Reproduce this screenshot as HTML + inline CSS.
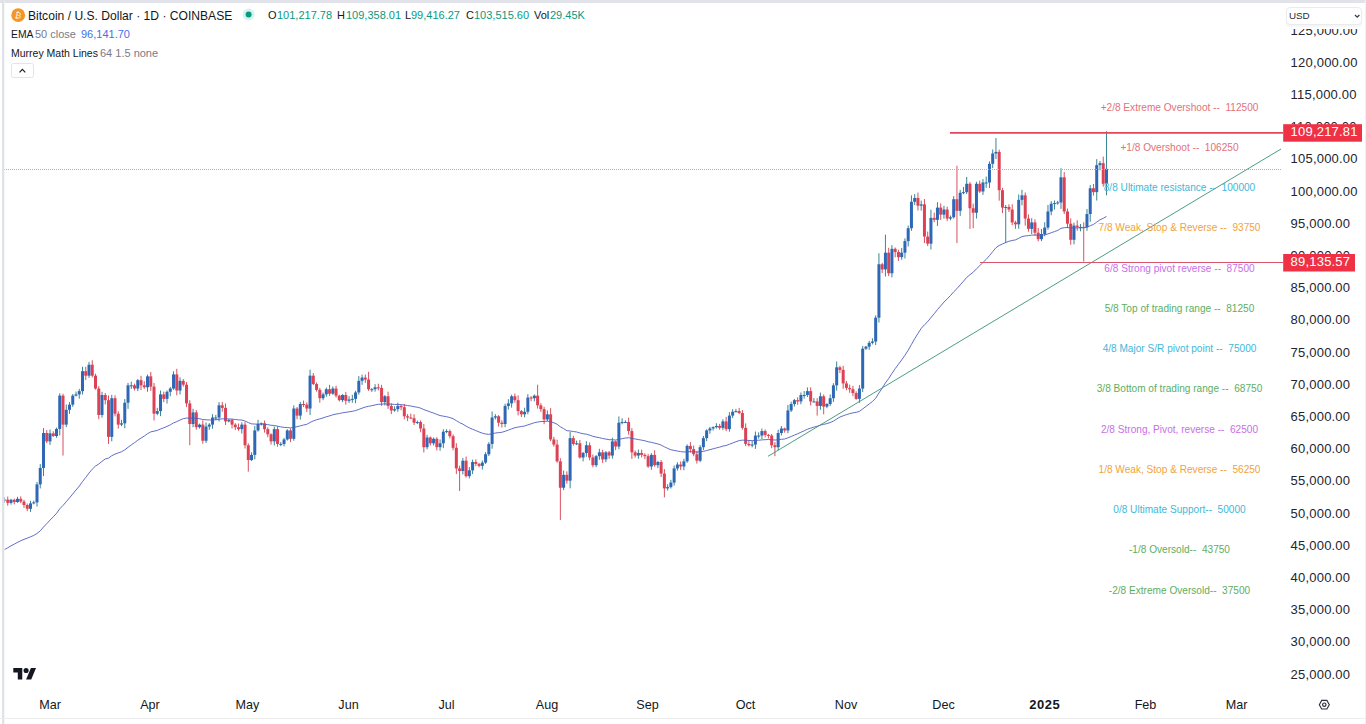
<!DOCTYPE html>
<html><head><meta charset="utf-8">
<style>
html,body{margin:0;padding:0;background:#fff;}
body{width:1366px;height:724px;overflow:hidden;position:relative;font-family:"Liberation Sans",sans-serif;color:#131722;}
.frame-top{position:absolute;left:0;top:0;width:1366px;height:2.5px;background:#e2e3ea;}
.frame-left{position:absolute;left:1.5px;top:0;width:2.5px;height:724px;background:#dfe2e6;box-shadow:0.6px 0 0.8px #eef0f2;}
.frame-right{position:absolute;left:1364.5px;top:0;width:1.5px;height:724px;background:#f1f2f5;}
.frame-bottom{position:absolute;left:0;top:718.3px;width:1366px;height:1.2px;background:#ededed;}
svg{position:absolute;left:0;top:0;}
.legend{position:absolute;left:11px;white-space:pre;}
.l1{top:7px;font-size:13px;left:28px;}
.l2{top:27px;font-size:11px;}
.l3{top:45px;font-size:11px;}
.lg{position:absolute;top:9px;font-size:11px;white-space:pre;color:#131722;}
.v{color:#089981;}
.lg2{position:absolute;font-size:11px;white-space:pre;color:#131722;}
.lg2.g{color:#787b86;}
.btn{position:absolute;left:11px;top:63px;width:22.5px;height:15.3px;border:1px solid #e3e4e6;border-radius:2.5px;box-sizing:border-box;}
.usd{position:absolute;left:1286px;top:6.5px;width:76px;height:18px;border:1px solid #e9ebef;border-radius:4px;box-sizing:border-box;font-size:9.8px;background:#fff;box-shadow:0 1.5px 1.5px rgba(0,0,0,0.04);color:#2a2e39;font-weight:normal;}
.taxis{position:absolute;top:697.6px;font-size:12.6px;transform:translateX(-50%);}
</style></head><body>
<svg width="1366" height="724" viewBox="0 0 1366 724" font-family="Liberation Sans, sans-serif">
<defs><clipPath id="pane"><rect x="4" y="2" width="1280" height="686"/></clipPath></defs>
<g clip-path="url(#pane)">
<rect x="-9.01" y="512.78" width="1" height="5.13" fill="#3a8593"/><rect x="-10.01" y="514.14" width="3" height="1.61" fill="#2d67b5"/><rect x="-5.76" y="512.22" width="1" height="3.98" fill="#d9505f"/><rect x="-6.76" y="514.14" width="3" height="1.29" fill="#dc4254"/><rect x="-2.51" y="500.38" width="1" height="15.96" fill="#3a8593"/><rect x="-3.51" y="501.91" width="3" height="13.52" fill="#2d67b5"/><rect x="0.74" y="498.81" width="1" height="4.01" fill="#3a8593"/><rect x="-0.26" y="500.62" width="3" height="1.29" fill="#2d67b5"/><rect x="3.99" y="497.34" width="1" height="5.38" fill="#3a8593"/><rect x="2.99" y="499.65" width="3" height="1.00" fill="#2d67b5"/><rect x="7.24" y="496.58" width="1" height="9.18" fill="#d9505f"/><rect x="6.24" y="499.65" width="3" height="3.22" fill="#dc4254"/><rect x="10.49" y="498.80" width="1" height="5.80" fill="#3a8593"/><rect x="9.49" y="499.78" width="3" height="3.09" fill="#2d67b5"/><rect x="13.74" y="498.57" width="1" height="5.78" fill="#d9505f"/><rect x="12.74" y="499.78" width="3" height="2.25" fill="#dc4254"/><rect x="16.99" y="496.81" width="1" height="6.04" fill="#3a8593"/><rect x="15.99" y="498.82" width="3" height="3.22" fill="#2d67b5"/><rect x="20.24" y="496.34" width="1" height="6.85" fill="#d9505f"/><rect x="19.24" y="498.82" width="3" height="2.77" fill="#dc4254"/><rect x="23.49" y="499.73" width="1" height="8.19" fill="#d9505f"/><rect x="22.49" y="501.59" width="3" height="3.41" fill="#dc4254"/><rect x="26.75" y="503.52" width="1" height="7.64" fill="#d9505f"/><rect x="25.75" y="505.00" width="3" height="3.80" fill="#dc4254"/><rect x="30.00" y="500.74" width="1" height="11.21" fill="#3a8593"/><rect x="29.00" y="503.39" width="3" height="5.41" fill="#2d67b5"/><rect x="33.25" y="500.62" width="1" height="3.78" fill="#3a8593"/><rect x="32.25" y="502.36" width="3" height="1.03" fill="#2d67b5"/><rect x="36.50" y="481.90" width="1" height="24.64" fill="#3a8593"/><rect x="35.50" y="484.39" width="3" height="17.97" fill="#2d67b5"/><rect x="39.75" y="464.04" width="1" height="24.39" fill="#3a8593"/><rect x="38.75" y="467.90" width="3" height="16.49" fill="#2d67b5"/><rect x="43.00" y="428.15" width="1" height="47.97" fill="#3a8593"/><rect x="42.00" y="433.00" width="3" height="34.90" fill="#2d67b5"/><rect x="46.25" y="430.08" width="1" height="13.01" fill="#d9505f"/><rect x="45.25" y="433.00" width="3" height="8.37" fill="#dc4254"/><rect x="49.50" y="429.53" width="1" height="15.39" fill="#3a8593"/><rect x="48.50" y="433.39" width="3" height="7.99" fill="#2d67b5"/><rect x="52.75" y="431.28" width="1" height="5.66" fill="#d9505f"/><rect x="51.75" y="433.39" width="3" height="2.64" fill="#dc4254"/><rect x="56.00" y="427.62" width="1" height="10.08" fill="#3a8593"/><rect x="55.00" y="428.94" width="3" height="7.08" fill="#2d67b5"/><rect x="59.25" y="393.25" width="1" height="42.10" fill="#3a8593"/><rect x="58.25" y="395.65" width="3" height="33.29" fill="#2d67b5"/><rect x="62.50" y="393.72" width="1" height="61.82" fill="#d9505f"/><rect x="61.50" y="395.65" width="3" height="28.98" fill="#dc4254"/><rect x="65.75" y="404.51" width="1" height="22.66" fill="#3a8593"/><rect x="64.75" y="409.82" width="3" height="14.81" fill="#2d67b5"/><rect x="69.00" y="402.08" width="1" height="11.74" fill="#3a8593"/><rect x="68.00" y="404.66" width="3" height="5.15" fill="#2d67b5"/><rect x="72.25" y="394.01" width="1" height="12.82" fill="#3a8593"/><rect x="71.25" y="395.65" width="3" height="9.02" fill="#2d67b5"/><rect x="75.51" y="391.58" width="1" height="4.89" fill="#3a8593"/><rect x="74.51" y="394.36" width="3" height="1.29" fill="#2d67b5"/><rect x="78.76" y="388.87" width="1" height="9.82" fill="#3a8593"/><rect x="77.76" y="391.14" width="3" height="3.22" fill="#2d67b5"/><rect x="82.01" y="366.72" width="1" height="27.77" fill="#3a8593"/><rect x="81.01" y="371.18" width="3" height="19.96" fill="#2d67b5"/><rect x="85.26" y="366.71" width="1" height="13.37" fill="#d9505f"/><rect x="84.26" y="371.18" width="3" height="4.51" fill="#dc4254"/><rect x="88.51" y="361.88" width="1" height="16.00" fill="#3a8593"/><rect x="87.51" y="364.74" width="3" height="10.95" fill="#2d67b5"/><rect x="91.76" y="360.23" width="1" height="17.22" fill="#d9505f"/><rect x="90.76" y="364.74" width="3" height="10.95" fill="#dc4254"/><rect x="95.01" y="373.67" width="1" height="15.92" fill="#d9505f"/><rect x="94.01" y="375.68" width="3" height="12.88" fill="#dc4254"/><rect x="98.26" y="386.10" width="1" height="33.11" fill="#d9505f"/><rect x="97.26" y="388.56" width="3" height="26.40" fill="#dc4254"/><rect x="101.51" y="391.75" width="1" height="25.84" fill="#3a8593"/><rect x="100.51" y="395.00" width="3" height="19.96" fill="#2d67b5"/><rect x="104.76" y="392.97" width="1" height="11.52" fill="#d9505f"/><rect x="103.76" y="395.00" width="3" height="5.15" fill="#dc4254"/><rect x="108.01" y="395.40" width="1" height="48.54" fill="#d9505f"/><rect x="107.01" y="400.16" width="3" height="36.71" fill="#dc4254"/><rect x="111.26" y="394.81" width="1" height="46.50" fill="#3a8593"/><rect x="110.26" y="398.22" width="3" height="38.64" fill="#2d67b5"/><rect x="114.51" y="395.25" width="1" height="21.18" fill="#d9505f"/><rect x="113.51" y="398.22" width="3" height="15.46" fill="#dc4254"/><rect x="117.76" y="411.24" width="1" height="17.34" fill="#d9505f"/><rect x="116.76" y="413.68" width="3" height="10.95" fill="#dc4254"/><rect x="121.02" y="419.79" width="1" height="6.42" fill="#3a8593"/><rect x="120.02" y="423.34" width="3" height="1.29" fill="#2d67b5"/><rect x="124.27" y="399.08" width="1" height="29.16" fill="#3a8593"/><rect x="123.27" y="402.73" width="3" height="20.61" fill="#2d67b5"/><rect x="127.52" y="382.88" width="1" height="25.98" fill="#3a8593"/><rect x="126.52" y="385.34" width="3" height="17.39" fill="#2d67b5"/><rect x="130.77" y="381.65" width="1" height="7.28" fill="#3a8593"/><rect x="129.77" y="385.34" width="3" height="1.00" fill="#2d67b5"/><rect x="134.02" y="383.58" width="1" height="6.96" fill="#d9505f"/><rect x="133.02" y="385.34" width="3" height="3.22" fill="#dc4254"/><rect x="137.27" y="378.99" width="1" height="12.10" fill="#3a8593"/><rect x="136.27" y="380.19" width="3" height="8.37" fill="#2d67b5"/><rect x="140.52" y="375.79" width="1" height="14.31" fill="#d9505f"/><rect x="139.52" y="380.19" width="3" height="5.15" fill="#dc4254"/><rect x="143.77" y="381.20" width="1" height="7.64" fill="#d9505f"/><rect x="142.77" y="385.34" width="3" height="1.93" fill="#dc4254"/><rect x="147.02" y="374.54" width="1" height="17.18" fill="#3a8593"/><rect x="146.02" y="376.33" width="3" height="10.95" fill="#2d67b5"/><rect x="150.27" y="371.94" width="1" height="18.92" fill="#d9505f"/><rect x="149.27" y="376.33" width="3" height="10.30" fill="#dc4254"/><rect x="153.52" y="382.98" width="1" height="37.52" fill="#d9505f"/><rect x="152.52" y="386.63" width="3" height="27.05" fill="#dc4254"/><rect x="156.77" y="407.77" width="1" height="7.50" fill="#3a8593"/><rect x="155.77" y="411.10" width="3" height="2.58" fill="#2d67b5"/><rect x="160.02" y="390.49" width="1" height="25.64" fill="#3a8593"/><rect x="159.02" y="394.36" width="3" height="16.74" fill="#2d67b5"/><rect x="163.27" y="391.65" width="1" height="10.49" fill="#d9505f"/><rect x="162.27" y="394.36" width="3" height="4.51" fill="#dc4254"/><rect x="166.53" y="390.46" width="1" height="13.09" fill="#3a8593"/><rect x="165.53" y="391.78" width="3" height="7.08" fill="#2d67b5"/><rect x="169.78" y="386.92" width="1" height="9.29" fill="#3a8593"/><rect x="168.78" y="388.56" width="3" height="3.22" fill="#2d67b5"/><rect x="173.03" y="371.23" width="1" height="18.60" fill="#3a8593"/><rect x="172.03" y="374.40" width="3" height="14.17" fill="#2d67b5"/><rect x="176.28" y="368.77" width="1" height="26.52" fill="#d9505f"/><rect x="175.28" y="374.40" width="3" height="16.10" fill="#dc4254"/><rect x="179.53" y="377.30" width="1" height="17.14" fill="#3a8593"/><rect x="178.53" y="380.84" width="3" height="9.66" fill="#2d67b5"/><rect x="182.78" y="379.05" width="1" height="7.57" fill="#d9505f"/><rect x="181.78" y="380.84" width="3" height="3.86" fill="#dc4254"/><rect x="186.03" y="381.95" width="1" height="25.12" fill="#d9505f"/><rect x="185.03" y="384.70" width="3" height="18.68" fill="#dc4254"/><rect x="189.28" y="400.16" width="1" height="45.08" fill="#d9505f"/><rect x="188.28" y="403.38" width="3" height="20.61" fill="#dc4254"/><rect x="192.53" y="408.73" width="1" height="18.51" fill="#3a8593"/><rect x="191.53" y="412.39" width="3" height="11.59" fill="#2d67b5"/><rect x="195.78" y="410.03" width="1" height="19.64" fill="#d9505f"/><rect x="194.78" y="412.39" width="3" height="14.81" fill="#dc4254"/><rect x="199.03" y="423.63" width="1" height="4.98" fill="#3a8593"/><rect x="198.03" y="424.63" width="3" height="2.58" fill="#2d67b5"/><rect x="202.28" y="420.43" width="1" height="23.19" fill="#d9505f"/><rect x="201.28" y="424.63" width="3" height="16.10" fill="#dc4254"/><rect x="205.53" y="422.47" width="1" height="20.46" fill="#3a8593"/><rect x="204.53" y="426.56" width="3" height="14.17" fill="#2d67b5"/><rect x="208.78" y="423.08" width="1" height="6.74" fill="#3a8593"/><rect x="207.78" y="424.63" width="3" height="1.93" fill="#2d67b5"/><rect x="212.03" y="414.24" width="1" height="14.49" fill="#3a8593"/><rect x="211.03" y="417.54" width="3" height="7.08" fill="#2d67b5"/><rect x="215.29" y="414.88" width="1" height="5.00" fill="#3a8593"/><rect x="214.29" y="417.54" width="3" height="1.00" fill="#2d67b5"/><rect x="218.54" y="402.12" width="1" height="19.44" fill="#3a8593"/><rect x="217.54" y="405.31" width="3" height="12.24" fill="#2d67b5"/><rect x="221.79" y="401.96" width="1" height="9.83" fill="#d9505f"/><rect x="220.79" y="405.31" width="3" height="2.58" fill="#dc4254"/><rect x="225.04" y="403.50" width="1" height="21.54" fill="#d9505f"/><rect x="224.04" y="407.88" width="3" height="13.52" fill="#dc4254"/><rect x="228.29" y="418.96" width="1" height="3.41" fill="#3a8593"/><rect x="227.29" y="420.12" width="3" height="1.29" fill="#2d67b5"/><rect x="231.54" y="418.76" width="1" height="9.63" fill="#d9505f"/><rect x="230.54" y="420.12" width="3" height="4.51" fill="#dc4254"/><rect x="234.79" y="423.19" width="1" height="6.82" fill="#d9505f"/><rect x="233.79" y="424.63" width="3" height="2.58" fill="#dc4254"/><rect x="238.04" y="423.49" width="1" height="7.28" fill="#d9505f"/><rect x="237.04" y="427.20" width="3" height="1.93" fill="#dc4254"/><rect x="241.29" y="422.36" width="1" height="11.15" fill="#3a8593"/><rect x="240.29" y="424.63" width="3" height="4.51" fill="#2d67b5"/><rect x="244.54" y="422.16" width="1" height="26.31" fill="#d9505f"/><rect x="243.54" y="424.63" width="3" height="20.61" fill="#dc4254"/><rect x="247.79" y="443.34" width="1" height="28.30" fill="#d9505f"/><rect x="246.79" y="445.24" width="3" height="14.81" fill="#dc4254"/><rect x="251.04" y="452.30" width="1" height="8.68" fill="#3a8593"/><rect x="250.04" y="454.90" width="3" height="5.15" fill="#2d67b5"/><rect x="254.29" y="425.93" width="1" height="33.45" fill="#3a8593"/><rect x="253.29" y="430.42" width="3" height="24.47" fill="#2d67b5"/><rect x="257.54" y="419.87" width="1" height="11.82" fill="#3a8593"/><rect x="256.54" y="423.98" width="3" height="6.44" fill="#2d67b5"/><rect x="260.80" y="422.46" width="1" height="3.08" fill="#3a8593"/><rect x="259.80" y="423.34" width="3" height="1.00" fill="#2d67b5"/><rect x="264.05" y="420.56" width="1" height="12.04" fill="#d9505f"/><rect x="263.05" y="423.34" width="3" height="5.80" fill="#dc4254"/><rect x="267.30" y="427.30" width="1" height="9.95" fill="#d9505f"/><rect x="266.30" y="429.14" width="3" height="5.15" fill="#dc4254"/><rect x="270.55" y="433.31" width="1" height="11.26" fill="#d9505f"/><rect x="269.55" y="434.29" width="3" height="7.08" fill="#dc4254"/><rect x="273.80" y="426.52" width="1" height="18.98" fill="#3a8593"/><rect x="272.80" y="429.14" width="3" height="12.24" fill="#2d67b5"/><rect x="277.05" y="426.34" width="1" height="20.38" fill="#d9505f"/><rect x="276.05" y="429.14" width="3" height="14.81" fill="#dc4254"/><rect x="280.30" y="441.93" width="1" height="4.33" fill="#3a8593"/><rect x="279.30" y="443.95" width="3" height="1.00" fill="#2d67b5"/><rect x="283.55" y="437.88" width="1" height="8.49" fill="#3a8593"/><rect x="282.55" y="439.44" width="3" height="4.51" fill="#2d67b5"/><rect x="286.80" y="429.20" width="1" height="11.34" fill="#3a8593"/><rect x="285.80" y="430.42" width="3" height="9.02" fill="#2d67b5"/><rect x="290.05" y="428.43" width="1" height="13.70" fill="#d9505f"/><rect x="289.05" y="430.42" width="3" height="8.37" fill="#dc4254"/><rect x="293.30" y="405.37" width="1" height="35.35" fill="#3a8593"/><rect x="292.30" y="408.53" width="3" height="30.27" fill="#2d67b5"/><rect x="296.55" y="407.01" width="1" height="12.25" fill="#d9505f"/><rect x="295.55" y="408.53" width="3" height="7.08" fill="#dc4254"/><rect x="299.80" y="401.85" width="1" height="17.76" fill="#3a8593"/><rect x="298.80" y="404.02" width="3" height="11.59" fill="#2d67b5"/><rect x="303.05" y="400.55" width="1" height="6.55" fill="#d9505f"/><rect x="302.05" y="404.02" width="3" height="1.00" fill="#dc4254"/><rect x="306.31" y="402.37" width="1" height="9.69" fill="#d9505f"/><rect x="305.31" y="404.66" width="3" height="3.86" fill="#dc4254"/><rect x="309.56" y="369.61" width="1" height="45.31" fill="#3a8593"/><rect x="308.56" y="375.68" width="3" height="32.84" fill="#2d67b5"/><rect x="312.81" y="373.10" width="1" height="12.06" fill="#d9505f"/><rect x="311.81" y="375.68" width="3" height="8.37" fill="#dc4254"/><rect x="316.06" y="382.43" width="1" height="9.17" fill="#d9505f"/><rect x="315.06" y="384.06" width="3" height="5.80" fill="#dc4254"/><rect x="319.31" y="387.79" width="1" height="14.93" fill="#d9505f"/><rect x="318.31" y="389.85" width="3" height="8.37" fill="#dc4254"/><rect x="322.56" y="392.53" width="1" height="7.68" fill="#3a8593"/><rect x="321.56" y="394.36" width="3" height="3.86" fill="#2d67b5"/><rect x="325.81" y="387.59" width="1" height="9.16" fill="#3a8593"/><rect x="324.81" y="389.21" width="3" height="5.15" fill="#2d67b5"/><rect x="329.06" y="384.80" width="1" height="11.13" fill="#d9505f"/><rect x="328.06" y="389.21" width="3" height="4.51" fill="#dc4254"/><rect x="332.31" y="386.49" width="1" height="8.27" fill="#3a8593"/><rect x="331.31" y="388.56" width="3" height="5.15" fill="#2d67b5"/><rect x="335.56" y="385.70" width="1" height="11.89" fill="#d9505f"/><rect x="334.56" y="388.56" width="3" height="7.08" fill="#dc4254"/><rect x="338.81" y="394.73" width="1" height="6.71" fill="#d9505f"/><rect x="337.81" y="395.65" width="3" height="4.51" fill="#dc4254"/><rect x="342.06" y="394.12" width="1" height="7.98" fill="#3a8593"/><rect x="341.06" y="395.00" width="3" height="5.15" fill="#2d67b5"/><rect x="345.31" y="391.87" width="1" height="12.73" fill="#d9505f"/><rect x="344.31" y="395.00" width="3" height="5.80" fill="#dc4254"/><rect x="348.56" y="396.22" width="1" height="6.67" fill="#3a8593"/><rect x="347.56" y="399.51" width="3" height="1.29" fill="#2d67b5"/><rect x="351.82" y="394.82" width="1" height="7.91" fill="#3a8593"/><rect x="350.82" y="398.87" width="3" height="1.00" fill="#2d67b5"/><rect x="355.07" y="390.74" width="1" height="12.51" fill="#3a8593"/><rect x="354.07" y="392.43" width="3" height="6.44" fill="#2d67b5"/><rect x="358.32" y="376.10" width="1" height="18.47" fill="#3a8593"/><rect x="357.32" y="380.84" width="3" height="11.59" fill="#2d67b5"/><rect x="361.57" y="374.68" width="1" height="10.15" fill="#3a8593"/><rect x="360.57" y="377.62" width="3" height="3.22" fill="#2d67b5"/><rect x="364.82" y="374.55" width="1" height="8.34" fill="#d9505f"/><rect x="363.82" y="377.62" width="3" height="1.93" fill="#dc4254"/><rect x="368.07" y="371.82" width="1" height="19.10" fill="#d9505f"/><rect x="367.07" y="379.55" width="3" height="9.66" fill="#dc4254"/><rect x="371.32" y="388.11" width="1" height="3.75" fill="#3a8593"/><rect x="370.32" y="389.21" width="3" height="1.00" fill="#2d67b5"/><rect x="374.57" y="384.18" width="1" height="7.46" fill="#3a8593"/><rect x="373.57" y="387.28" width="3" height="1.93" fill="#2d67b5"/><rect x="377.82" y="383.72" width="1" height="6.73" fill="#d9505f"/><rect x="376.82" y="387.28" width="3" height="1.00" fill="#dc4254"/><rect x="381.07" y="384.86" width="1" height="20.93" fill="#d9505f"/><rect x="380.07" y="387.92" width="3" height="14.17" fill="#dc4254"/><rect x="384.32" y="395.08" width="1" height="10.37" fill="#3a8593"/><rect x="383.32" y="396.29" width="3" height="5.80" fill="#2d67b5"/><rect x="387.57" y="391.72" width="1" height="17.13" fill="#d9505f"/><rect x="386.57" y="396.29" width="3" height="9.66" fill="#dc4254"/><rect x="390.82" y="403.22" width="1" height="10.87" fill="#d9505f"/><rect x="389.82" y="405.95" width="3" height="4.51" fill="#dc4254"/><rect x="394.07" y="406.34" width="1" height="5.35" fill="#3a8593"/><rect x="393.07" y="409.17" width="3" height="1.29" fill="#2d67b5"/><rect x="397.32" y="402.64" width="1" height="9.13" fill="#3a8593"/><rect x="396.32" y="405.95" width="3" height="3.22" fill="#2d67b5"/><rect x="400.58" y="404.99" width="1" height="5.30" fill="#d9505f"/><rect x="399.58" y="405.95" width="3" height="1.29" fill="#dc4254"/><rect x="403.83" y="403.97" width="1" height="15.27" fill="#d9505f"/><rect x="402.83" y="407.24" width="3" height="9.02" fill="#dc4254"/><rect x="407.08" y="414.04" width="1" height="7.11" fill="#d9505f"/><rect x="406.08" y="416.26" width="3" height="1.29" fill="#dc4254"/><rect x="410.33" y="413.62" width="1" height="5.36" fill="#d9505f"/><rect x="409.33" y="417.54" width="3" height="1.00" fill="#dc4254"/><rect x="413.58" y="414.25" width="1" height="10.74" fill="#d9505f"/><rect x="412.58" y="418.19" width="3" height="4.51" fill="#dc4254"/><rect x="416.83" y="420.61" width="1" height="3.49" fill="#3a8593"/><rect x="415.83" y="422.05" width="3" height="1.00" fill="#2d67b5"/><rect x="420.08" y="420.43" width="1" height="11.85" fill="#d9505f"/><rect x="419.08" y="422.05" width="3" height="6.44" fill="#dc4254"/><rect x="423.33" y="423.97" width="1" height="28.46" fill="#d9505f"/><rect x="422.33" y="428.49" width="3" height="18.68" fill="#dc4254"/><rect x="426.58" y="434.84" width="1" height="14.51" fill="#3a8593"/><rect x="425.58" y="437.51" width="3" height="9.66" fill="#2d67b5"/><rect x="429.83" y="436.42" width="1" height="9.15" fill="#d9505f"/><rect x="428.83" y="437.51" width="3" height="5.80" fill="#dc4254"/><rect x="433.08" y="437.48" width="1" height="8.01" fill="#3a8593"/><rect x="432.08" y="438.80" width="3" height="4.51" fill="#2d67b5"/><rect x="436.33" y="437.21" width="1" height="13.26" fill="#d9505f"/><rect x="435.33" y="438.80" width="3" height="8.37" fill="#dc4254"/><rect x="439.58" y="439.45" width="1" height="11.26" fill="#3a8593"/><rect x="438.58" y="443.30" width="3" height="3.86" fill="#2d67b5"/><rect x="442.83" y="429.21" width="1" height="18.89" fill="#3a8593"/><rect x="441.83" y="431.71" width="3" height="11.59" fill="#2d67b5"/><rect x="446.09" y="429.24" width="1" height="4.00" fill="#3a8593"/><rect x="445.09" y="431.07" width="3" height="1.00" fill="#2d67b5"/><rect x="449.34" y="429.45" width="1" height="9.03" fill="#d9505f"/><rect x="448.34" y="431.07" width="3" height="5.15" fill="#dc4254"/><rect x="452.59" y="434.37" width="1" height="15.93" fill="#d9505f"/><rect x="451.59" y="436.22" width="3" height="11.59" fill="#dc4254"/><rect x="455.84" y="443.20" width="1" height="30.84" fill="#d9505f"/><rect x="454.84" y="447.81" width="3" height="20.61" fill="#dc4254"/><rect x="459.09" y="465.69" width="1" height="25.27" fill="#d9505f"/><rect x="458.09" y="468.42" width="3" height="2.58" fill="#dc4254"/><rect x="462.34" y="457.92" width="1" height="16.50" fill="#3a8593"/><rect x="461.34" y="460.69" width="3" height="10.30" fill="#2d67b5"/><rect x="465.59" y="456.52" width="1" height="21.12" fill="#d9505f"/><rect x="464.59" y="460.69" width="3" height="15.46" fill="#dc4254"/><rect x="468.84" y="467.03" width="1" height="11.34" fill="#3a8593"/><rect x="467.84" y="470.35" width="3" height="5.80" fill="#2d67b5"/><rect x="472.09" y="459.58" width="1" height="14.52" fill="#3a8593"/><rect x="471.09" y="461.98" width="3" height="8.37" fill="#2d67b5"/><rect x="475.34" y="459.40" width="1" height="6.83" fill="#d9505f"/><rect x="474.34" y="461.98" width="3" height="1.93" fill="#dc4254"/><rect x="478.59" y="462.78" width="1" height="4.53" fill="#d9505f"/><rect x="477.59" y="463.91" width="3" height="1.93" fill="#dc4254"/><rect x="481.84" y="460.48" width="1" height="9.07" fill="#3a8593"/><rect x="480.84" y="462.62" width="3" height="3.22" fill="#2d67b5"/><rect x="485.09" y="452.13" width="1" height="11.81" fill="#3a8593"/><rect x="484.09" y="454.25" width="3" height="8.37" fill="#2d67b5"/><rect x="488.34" y="442.13" width="1" height="13.89" fill="#3a8593"/><rect x="487.34" y="443.95" width="3" height="10.30" fill="#2d67b5"/><rect x="491.60" y="411.51" width="1" height="37.18" fill="#3a8593"/><rect x="490.60" y="417.54" width="3" height="26.40" fill="#2d67b5"/><rect x="494.85" y="414.13" width="1" height="5.39" fill="#3a8593"/><rect x="493.85" y="416.26" width="3" height="1.29" fill="#2d67b5"/><rect x="498.10" y="415.11" width="1" height="11.47" fill="#d9505f"/><rect x="497.10" y="416.26" width="3" height="6.44" fill="#dc4254"/><rect x="501.35" y="420.30" width="1" height="7.14" fill="#d9505f"/><rect x="500.35" y="422.70" width="3" height="1.29" fill="#dc4254"/><rect x="504.60" y="403.67" width="1" height="23.55" fill="#3a8593"/><rect x="503.60" y="405.95" width="3" height="18.03" fill="#2d67b5"/><rect x="507.85" y="399.16" width="1" height="10.42" fill="#3a8593"/><rect x="506.85" y="403.38" width="3" height="2.58" fill="#2d67b5"/><rect x="511.10" y="394.70" width="1" height="12.93" fill="#3a8593"/><rect x="510.10" y="396.29" width="3" height="7.08" fill="#2d67b5"/><rect x="514.35" y="393.61" width="1" height="9.12" fill="#d9505f"/><rect x="513.35" y="396.29" width="3" height="3.86" fill="#dc4254"/><rect x="517.60" y="395.35" width="1" height="20.04" fill="#d9505f"/><rect x="516.60" y="400.16" width="3" height="10.95" fill="#dc4254"/><rect x="520.85" y="409.98" width="1" height="7.06" fill="#d9505f"/><rect x="519.85" y="411.10" width="3" height="3.22" fill="#dc4254"/><rect x="524.10" y="407.70" width="1" height="9.73" fill="#3a8593"/><rect x="523.10" y="411.75" width="3" height="2.58" fill="#2d67b5"/><rect x="527.35" y="394.14" width="1" height="20.12" fill="#3a8593"/><rect x="526.35" y="397.58" width="3" height="14.17" fill="#2d67b5"/><rect x="530.60" y="395.99" width="1" height="5.16" fill="#d9505f"/><rect x="529.60" y="397.58" width="3" height="1.00" fill="#dc4254"/><rect x="533.85" y="394.39" width="1" height="6.98" fill="#3a8593"/><rect x="532.85" y="395.65" width="3" height="2.58" fill="#2d67b5"/><rect x="537.11" y="384.70" width="1" height="23.90" fill="#d9505f"/><rect x="536.11" y="395.65" width="3" height="9.66" fill="#dc4254"/><rect x="540.36" y="403.20" width="1" height="8.65" fill="#d9505f"/><rect x="539.36" y="405.31" width="3" height="3.86" fill="#dc4254"/><rect x="543.61" y="406.81" width="1" height="17.42" fill="#d9505f"/><rect x="542.61" y="409.17" width="3" height="10.30" fill="#dc4254"/><rect x="546.86" y="410.40" width="1" height="10.73" fill="#3a8593"/><rect x="545.86" y="414.32" width="3" height="5.15" fill="#2d67b5"/><rect x="550.11" y="408.09" width="1" height="33.03" fill="#d9505f"/><rect x="549.11" y="414.32" width="3" height="25.12" fill="#dc4254"/><rect x="553.36" y="436.77" width="1" height="9.93" fill="#d9505f"/><rect x="552.36" y="439.44" width="3" height="5.15" fill="#dc4254"/><rect x="556.61" y="439.73" width="1" height="22.96" fill="#d9505f"/><rect x="555.61" y="444.59" width="3" height="16.74" fill="#dc4254"/><rect x="559.86" y="458.19" width="1" height="61.75" fill="#d9505f"/><rect x="558.86" y="461.34" width="3" height="26.40" fill="#dc4254"/><rect x="563.11" y="470.62" width="1" height="19.51" fill="#3a8593"/><rect x="562.11" y="474.86" width="3" height="12.88" fill="#2d67b5"/><rect x="566.36" y="471.35" width="1" height="12.33" fill="#d9505f"/><rect x="565.36" y="474.86" width="3" height="5.80" fill="#dc4254"/><rect x="569.61" y="431.97" width="1" height="56.31" fill="#3a8593"/><rect x="568.61" y="438.15" width="3" height="42.50" fill="#2d67b5"/><rect x="572.86" y="435.85" width="1" height="9.78" fill="#d9505f"/><rect x="571.86" y="438.15" width="3" height="5.80" fill="#dc4254"/><rect x="576.11" y="440.56" width="1" height="4.52" fill="#3a8593"/><rect x="575.11" y="443.30" width="3" height="1.00" fill="#2d67b5"/><rect x="579.36" y="439.99" width="1" height="18.63" fill="#d9505f"/><rect x="578.36" y="443.30" width="3" height="14.17" fill="#dc4254"/><rect x="582.61" y="451.89" width="1" height="9.46" fill="#3a8593"/><rect x="581.61" y="452.96" width="3" height="4.51" fill="#2d67b5"/><rect x="585.87" y="441.23" width="1" height="15.56" fill="#3a8593"/><rect x="584.87" y="445.24" width="3" height="7.73" fill="#2d67b5"/><rect x="589.12" y="442.35" width="1" height="17.97" fill="#d9505f"/><rect x="588.12" y="445.24" width="3" height="12.24" fill="#dc4254"/><rect x="592.37" y="454.53" width="1" height="12.73" fill="#d9505f"/><rect x="591.37" y="457.47" width="3" height="7.73" fill="#dc4254"/><rect x="595.62" y="455.06" width="1" height="12.06" fill="#3a8593"/><rect x="594.62" y="456.18" width="3" height="9.02" fill="#2d67b5"/><rect x="598.87" y="448.80" width="1" height="10.98" fill="#3a8593"/><rect x="597.87" y="452.32" width="3" height="3.86" fill="#2d67b5"/><rect x="602.12" y="449.79" width="1" height="13.07" fill="#d9505f"/><rect x="601.12" y="452.32" width="3" height="7.08" fill="#dc4254"/><rect x="605.37" y="451.04" width="1" height="11.07" fill="#3a8593"/><rect x="604.37" y="452.32" width="3" height="7.08" fill="#2d67b5"/><rect x="608.62" y="450.95" width="1" height="7.85" fill="#d9505f"/><rect x="607.62" y="452.32" width="3" height="3.22" fill="#dc4254"/><rect x="611.87" y="437.75" width="1" height="20.85" fill="#3a8593"/><rect x="610.87" y="441.37" width="3" height="14.17" fill="#2d67b5"/><rect x="615.12" y="440.58" width="1" height="9.54" fill="#d9505f"/><rect x="614.12" y="441.37" width="3" height="5.15" fill="#dc4254"/><rect x="618.37" y="416.43" width="1" height="32.83" fill="#3a8593"/><rect x="617.37" y="422.70" width="3" height="23.83" fill="#2d67b5"/><rect x="621.62" y="418.26" width="1" height="6.02" fill="#3a8593"/><rect x="620.62" y="422.05" width="3" height="1.00" fill="#2d67b5"/><rect x="624.87" y="420.36" width="1" height="2.38" fill="#3a8593"/><rect x="623.87" y="422.05" width="3" height="1.00" fill="#2d67b5"/><rect x="628.12" y="417.67" width="1" height="17.03" fill="#d9505f"/><rect x="627.12" y="422.05" width="3" height="9.02" fill="#dc4254"/><rect x="631.38" y="428.23" width="1" height="30.59" fill="#d9505f"/><rect x="630.38" y="431.07" width="3" height="21.25" fill="#dc4254"/><rect x="634.63" y="450.44" width="1" height="7.22" fill="#d9505f"/><rect x="633.63" y="452.32" width="3" height="3.22" fill="#dc4254"/><rect x="637.88" y="449.53" width="1" height="9.29" fill="#3a8593"/><rect x="636.88" y="452.96" width="3" height="2.58" fill="#2d67b5"/><rect x="641.13" y="449.70" width="1" height="7.70" fill="#d9505f"/><rect x="640.13" y="452.96" width="3" height="1.93" fill="#dc4254"/><rect x="644.38" y="453.27" width="1" height="5.84" fill="#d9505f"/><rect x="643.38" y="454.90" width="3" height="1.29" fill="#dc4254"/><rect x="647.63" y="453.85" width="1" height="14.05" fill="#d9505f"/><rect x="646.63" y="456.18" width="3" height="10.30" fill="#dc4254"/><rect x="650.88" y="453.21" width="1" height="16.57" fill="#3a8593"/><rect x="649.88" y="454.90" width="3" height="11.59" fill="#2d67b5"/><rect x="654.13" y="450.24" width="1" height="16.46" fill="#d9505f"/><rect x="653.13" y="454.90" width="3" height="10.30" fill="#dc4254"/><rect x="657.38" y="460.85" width="1" height="7.23" fill="#3a8593"/><rect x="656.38" y="461.98" width="3" height="3.22" fill="#2d67b5"/><rect x="660.63" y="460.01" width="1" height="17.06" fill="#d9505f"/><rect x="659.63" y="461.98" width="3" height="11.59" fill="#dc4254"/><rect x="663.88" y="469.12" width="1" height="28.28" fill="#d9505f"/><rect x="662.88" y="473.57" width="3" height="14.81" fill="#dc4254"/><rect x="667.13" y="484.21" width="1" height="6.34" fill="#3a8593"/><rect x="666.13" y="487.10" width="3" height="1.29" fill="#2d67b5"/><rect x="670.38" y="479.87" width="1" height="8.65" fill="#3a8593"/><rect x="669.38" y="482.59" width="3" height="4.51" fill="#2d67b5"/><rect x="673.63" y="465.50" width="1" height="20.02" fill="#3a8593"/><rect x="672.63" y="468.42" width="3" height="14.17" fill="#2d67b5"/><rect x="676.89" y="462.24" width="1" height="8.38" fill="#3a8593"/><rect x="675.89" y="464.56" width="3" height="3.86" fill="#2d67b5"/><rect x="680.14" y="461.46" width="1" height="8.48" fill="#d9505f"/><rect x="679.14" y="464.56" width="3" height="1.93" fill="#dc4254"/><rect x="683.39" y="458.72" width="1" height="11.52" fill="#3a8593"/><rect x="682.39" y="461.34" width="3" height="5.15" fill="#2d67b5"/><rect x="686.64" y="444.44" width="1" height="18.34" fill="#3a8593"/><rect x="685.64" y="445.88" width="3" height="15.46" fill="#2d67b5"/><rect x="689.89" y="442.07" width="1" height="10.62" fill="#d9505f"/><rect x="688.89" y="445.88" width="3" height="3.22" fill="#dc4254"/><rect x="693.14" y="445.58" width="1" height="10.66" fill="#d9505f"/><rect x="692.14" y="449.10" width="3" height="5.15" fill="#dc4254"/><rect x="696.39" y="450.80" width="1" height="12.83" fill="#d9505f"/><rect x="695.39" y="454.25" width="3" height="6.44" fill="#dc4254"/><rect x="699.64" y="445.13" width="1" height="17.04" fill="#3a8593"/><rect x="698.64" y="447.17" width="3" height="13.52" fill="#2d67b5"/><rect x="702.89" y="435.91" width="1" height="14.19" fill="#3a8593"/><rect x="701.89" y="438.15" width="3" height="9.02" fill="#2d67b5"/><rect x="706.14" y="429.34" width="1" height="11.81" fill="#3a8593"/><rect x="705.14" y="430.42" width="3" height="7.73" fill="#2d67b5"/><rect x="709.39" y="426.78" width="1" height="6.96" fill="#3a8593"/><rect x="708.39" y="428.49" width="3" height="1.93" fill="#2d67b5"/><rect x="712.64" y="426.31" width="1" height="4.20" fill="#3a8593"/><rect x="711.64" y="427.20" width="3" height="1.29" fill="#2d67b5"/><rect x="715.89" y="423.21" width="1" height="5.32" fill="#3a8593"/><rect x="714.89" y="425.92" width="3" height="1.29" fill="#2d67b5"/><rect x="719.14" y="423.87" width="1" height="5.89" fill="#d9505f"/><rect x="718.14" y="425.92" width="3" height="1.93" fill="#dc4254"/><rect x="722.39" y="419.18" width="1" height="10.89" fill="#3a8593"/><rect x="721.39" y="421.41" width="3" height="6.44" fill="#2d67b5"/><rect x="725.65" y="416.88" width="1" height="14.30" fill="#d9505f"/><rect x="724.65" y="421.41" width="3" height="7.73" fill="#dc4254"/><rect x="728.90" y="412.15" width="1" height="19.52" fill="#3a8593"/><rect x="727.90" y="415.61" width="3" height="13.52" fill="#2d67b5"/><rect x="732.15" y="409.19" width="1" height="8.96" fill="#3a8593"/><rect x="731.15" y="411.75" width="3" height="3.86" fill="#2d67b5"/><rect x="735.40" y="408.88" width="1" height="3.67" fill="#3a8593"/><rect x="734.40" y="411.10" width="3" height="1.00" fill="#2d67b5"/><rect x="738.65" y="408.06" width="1" height="6.14" fill="#d9505f"/><rect x="737.65" y="411.10" width="3" height="1.93" fill="#dc4254"/><rect x="741.90" y="410.08" width="1" height="19.53" fill="#d9505f"/><rect x="740.90" y="413.04" width="3" height="14.81" fill="#dc4254"/><rect x="745.15" y="423.40" width="1" height="22.71" fill="#d9505f"/><rect x="744.15" y="427.85" width="3" height="16.10" fill="#dc4254"/><rect x="748.40" y="440.70" width="1" height="5.80" fill="#d9505f"/><rect x="747.40" y="443.95" width="3" height="1.29" fill="#dc4254"/><rect x="751.65" y="441.01" width="1" height="6.33" fill="#3a8593"/><rect x="750.65" y="444.59" width="3" height="1.00" fill="#2d67b5"/><rect x="754.90" y="431.54" width="1" height="17.34" fill="#3a8593"/><rect x="753.90" y="435.58" width="3" height="9.02" fill="#2d67b5"/><rect x="758.15" y="432.38" width="1" height="6.28" fill="#3a8593"/><rect x="757.15" y="435.58" width="3" height="1.00" fill="#2d67b5"/><rect x="761.40" y="428.57" width="1" height="10.38" fill="#3a8593"/><rect x="760.40" y="431.07" width="3" height="4.51" fill="#2d67b5"/><rect x="764.65" y="429.50" width="1" height="7.91" fill="#d9505f"/><rect x="763.65" y="431.07" width="3" height="3.86" fill="#dc4254"/><rect x="767.90" y="433.87" width="1" height="4.69" fill="#d9505f"/><rect x="766.90" y="434.93" width="3" height="1.00" fill="#dc4254"/><rect x="771.16" y="433.99" width="1" height="14.22" fill="#d9505f"/><rect x="770.16" y="435.58" width="3" height="9.66" fill="#dc4254"/><rect x="774.41" y="442.05" width="1" height="14.13" fill="#d9505f"/><rect x="773.41" y="445.24" width="3" height="1.93" fill="#dc4254"/><rect x="777.66" y="429.74" width="1" height="20.63" fill="#3a8593"/><rect x="776.66" y="433.00" width="3" height="14.17" fill="#2d67b5"/><rect x="780.91" y="426.04" width="1" height="9.33" fill="#3a8593"/><rect x="779.91" y="428.49" width="3" height="4.51" fill="#2d67b5"/><rect x="784.16" y="427.57" width="1" height="5.12" fill="#d9505f"/><rect x="783.16" y="428.49" width="3" height="1.93" fill="#dc4254"/><rect x="787.41" y="404.92" width="1" height="28.24" fill="#3a8593"/><rect x="786.41" y="410.46" width="3" height="19.96" fill="#2d67b5"/><rect x="790.66" y="401.63" width="1" height="10.38" fill="#3a8593"/><rect x="789.66" y="404.02" width="3" height="6.44" fill="#2d67b5"/><rect x="793.91" y="398.87" width="1" height="7.60" fill="#3a8593"/><rect x="792.91" y="400.16" width="3" height="3.86" fill="#2d67b5"/><rect x="797.16" y="397.30" width="1" height="7.47" fill="#d9505f"/><rect x="796.16" y="400.16" width="3" height="1.29" fill="#dc4254"/><rect x="800.41" y="392.49" width="1" height="11.76" fill="#3a8593"/><rect x="799.41" y="395.00" width="3" height="6.44" fill="#2d67b5"/><rect x="803.66" y="391.05" width="1" height="7.59" fill="#3a8593"/><rect x="802.66" y="395.00" width="3" height="1.00" fill="#2d67b5"/><rect x="806.91" y="387.43" width="1" height="9.54" fill="#3a8593"/><rect x="805.91" y="391.14" width="3" height="3.86" fill="#2d67b5"/><rect x="810.16" y="387.30" width="1" height="18.18" fill="#d9505f"/><rect x="809.16" y="391.14" width="3" height="10.30" fill="#dc4254"/><rect x="813.41" y="398.09" width="1" height="4.29" fill="#3a8593"/><rect x="812.41" y="401.44" width="3" height="1.00" fill="#2d67b5"/><rect x="816.67" y="398.13" width="1" height="17.49" fill="#d9505f"/><rect x="815.67" y="401.44" width="3" height="4.51" fill="#dc4254"/><rect x="819.92" y="392.60" width="1" height="17.11" fill="#3a8593"/><rect x="818.92" y="396.29" width="3" height="9.66" fill="#2d67b5"/><rect x="823.17" y="394.49" width="1" height="19.83" fill="#d9505f"/><rect x="822.17" y="396.29" width="3" height="10.30" fill="#dc4254"/><rect x="826.42" y="403.12" width="1" height="5.09" fill="#3a8593"/><rect x="825.42" y="404.02" width="3" height="2.58" fill="#2d67b5"/><rect x="829.67" y="394.44" width="1" height="11.56" fill="#3a8593"/><rect x="828.67" y="398.22" width="3" height="5.80" fill="#2d67b5"/><rect x="832.92" y="383.18" width="1" height="18.69" fill="#3a8593"/><rect x="831.92" y="385.34" width="3" height="12.88" fill="#2d67b5"/><rect x="836.17" y="361.52" width="1" height="29.08" fill="#3a8593"/><rect x="835.17" y="367.31" width="3" height="18.03" fill="#2d67b5"/><rect x="839.42" y="365.79" width="1" height="7.28" fill="#d9505f"/><rect x="838.42" y="367.31" width="3" height="2.58" fill="#dc4254"/><rect x="842.67" y="365.83" width="1" height="22.95" fill="#d9505f"/><rect x="841.67" y="369.89" width="3" height="13.52" fill="#dc4254"/><rect x="845.92" y="380.91" width="1" height="9.39" fill="#d9505f"/><rect x="844.92" y="383.41" width="3" height="4.51" fill="#dc4254"/><rect x="849.17" y="384.62" width="1" height="8.19" fill="#d9505f"/><rect x="848.17" y="387.92" width="3" height="1.29" fill="#dc4254"/><rect x="852.42" y="385.73" width="1" height="10.45" fill="#d9505f"/><rect x="851.42" y="389.21" width="3" height="3.86" fill="#dc4254"/><rect x="855.67" y="391.30" width="1" height="8.53" fill="#d9505f"/><rect x="854.67" y="393.07" width="3" height="5.80" fill="#dc4254"/><rect x="858.92" y="385.04" width="1" height="17.72" fill="#3a8593"/><rect x="857.92" y="388.56" width="3" height="10.30" fill="#2d67b5"/><rect x="862.18" y="345.98" width="1" height="45.97" fill="#3a8593"/><rect x="861.18" y="348.64" width="3" height="39.93" fill="#2d67b5"/><rect x="865.43" y="345.78" width="1" height="4.16" fill="#3a8593"/><rect x="864.43" y="346.70" width="3" height="1.93" fill="#2d67b5"/><rect x="868.68" y="340.84" width="1" height="9.03" fill="#3a8593"/><rect x="867.68" y="342.84" width="3" height="3.86" fill="#2d67b5"/><rect x="871.93" y="338.27" width="1" height="6.08" fill="#3a8593"/><rect x="870.93" y="341.55" width="3" height="1.29" fill="#2d67b5"/><rect x="875.18" y="315.36" width="1" height="29.70" fill="#3a8593"/><rect x="874.18" y="317.72" width="3" height="23.83" fill="#2d67b5"/><rect x="878.43" y="253.23" width="1" height="69.33" fill="#3a8593"/><rect x="877.43" y="264.27" width="3" height="53.45" fill="#2d67b5"/><rect x="881.68" y="262.79" width="1" height="10.29" fill="#d9505f"/><rect x="880.68" y="264.27" width="3" height="5.15" fill="#dc4254"/><rect x="884.93" y="234.65" width="1" height="41.79" fill="#3a8593"/><rect x="883.93" y="252.68" width="3" height="16.74" fill="#2d67b5"/><rect x="888.18" y="247.88" width="1" height="28.17" fill="#d9505f"/><rect x="887.18" y="252.68" width="3" height="20.61" fill="#dc4254"/><rect x="891.43" y="245.14" width="1" height="32.24" fill="#3a8593"/><rect x="890.43" y="248.82" width="3" height="24.47" fill="#2d67b5"/><rect x="894.68" y="247.53" width="1" height="9.76" fill="#d9505f"/><rect x="893.68" y="248.82" width="3" height="3.22" fill="#dc4254"/><rect x="897.93" y="249.72" width="1" height="11.17" fill="#d9505f"/><rect x="896.93" y="252.04" width="3" height="5.15" fill="#dc4254"/><rect x="901.18" y="247.95" width="1" height="11.79" fill="#3a8593"/><rect x="900.18" y="252.68" width="3" height="4.51" fill="#2d67b5"/><rect x="904.43" y="238.34" width="1" height="20.15" fill="#3a8593"/><rect x="903.43" y="241.09" width="3" height="11.59" fill="#2d67b5"/><rect x="907.68" y="225.54" width="1" height="20.93" fill="#3a8593"/><rect x="906.68" y="228.21" width="3" height="12.88" fill="#2d67b5"/><rect x="910.94" y="195.35" width="1" height="35.43" fill="#3a8593"/><rect x="909.94" y="201.80" width="3" height="26.40" fill="#2d67b5"/><rect x="914.19" y="194.08" width="1" height="10.86" fill="#3a8593"/><rect x="913.19" y="197.94" width="3" height="3.86" fill="#2d67b5"/><rect x="917.44" y="192.55" width="1" height="17.92" fill="#d9505f"/><rect x="916.44" y="197.94" width="3" height="7.73" fill="#dc4254"/><rect x="920.69" y="200.56" width="1" height="10.08" fill="#3a8593"/><rect x="919.69" y="204.38" width="3" height="1.29" fill="#2d67b5"/><rect x="923.94" y="199.07" width="1" height="44.00" fill="#d9505f"/><rect x="922.94" y="204.38" width="3" height="32.20" fill="#dc4254"/><rect x="927.19" y="231.58" width="1" height="14.50" fill="#d9505f"/><rect x="926.19" y="236.58" width="3" height="7.08" fill="#dc4254"/><rect x="930.44" y="209.70" width="1" height="39.80" fill="#3a8593"/><rect x="929.44" y="217.90" width="3" height="25.76" fill="#2d67b5"/><rect x="933.69" y="212.62" width="1" height="9.63" fill="#d9505f"/><rect x="932.69" y="217.90" width="3" height="1.93" fill="#dc4254"/><rect x="936.94" y="202.24" width="1" height="23.64" fill="#3a8593"/><rect x="935.94" y="207.60" width="3" height="12.24" fill="#2d67b5"/><rect x="940.19" y="203.44" width="1" height="16.52" fill="#d9505f"/><rect x="939.19" y="207.60" width="3" height="7.08" fill="#dc4254"/><rect x="943.44" y="205.83" width="1" height="12.87" fill="#3a8593"/><rect x="942.44" y="209.53" width="3" height="5.15" fill="#2d67b5"/><rect x="946.69" y="206.67" width="1" height="14.50" fill="#d9505f"/><rect x="945.69" y="209.53" width="3" height="9.02" fill="#dc4254"/><rect x="949.94" y="215.55" width="1" height="4.71" fill="#3a8593"/><rect x="948.94" y="217.26" width="3" height="1.29" fill="#2d67b5"/><rect x="953.19" y="196.10" width="1" height="22.46" fill="#3a8593"/><rect x="952.19" y="199.23" width="3" height="18.03" fill="#2d67b5"/><rect x="956.45" y="165.74" width="1" height="77.28" fill="#d9505f"/><rect x="955.45" y="199.23" width="3" height="11.59" fill="#dc4254"/><rect x="959.70" y="189.80" width="1" height="26.09" fill="#3a8593"/><rect x="958.70" y="192.79" width="3" height="18.03" fill="#2d67b5"/><rect x="962.95" y="186.94" width="1" height="7.32" fill="#3a8593"/><rect x="961.95" y="192.14" width="3" height="1.00" fill="#2d67b5"/><rect x="966.20" y="176.92" width="1" height="17.09" fill="#3a8593"/><rect x="965.20" y="183.77" width="3" height="8.37" fill="#2d67b5"/><rect x="969.45" y="182.07" width="1" height="46.78" fill="#d9505f"/><rect x="968.45" y="183.77" width="3" height="24.47" fill="#dc4254"/><rect x="972.70" y="203.62" width="1" height="24.59" fill="#d9505f"/><rect x="971.70" y="208.24" width="3" height="4.51" fill="#dc4254"/><rect x="975.95" y="181.77" width="1" height="36.75" fill="#3a8593"/><rect x="974.95" y="183.77" width="3" height="28.98" fill="#2d67b5"/><rect x="979.20" y="180.64" width="1" height="12.33" fill="#d9505f"/><rect x="978.20" y="183.77" width="3" height="7.73" fill="#dc4254"/><rect x="982.45" y="179.02" width="1" height="15.84" fill="#3a8593"/><rect x="981.45" y="182.48" width="3" height="9.02" fill="#2d67b5"/><rect x="985.70" y="176.56" width="1" height="11.28" fill="#3a8593"/><rect x="984.70" y="182.48" width="3" height="1.00" fill="#2d67b5"/><rect x="988.95" y="161.38" width="1" height="26.63" fill="#3a8593"/><rect x="987.95" y="163.81" width="3" height="18.68" fill="#2d67b5"/><rect x="992.20" y="149.47" width="1" height="18.62" fill="#3a8593"/><rect x="991.20" y="153.50" width="3" height="10.30" fill="#2d67b5"/><rect x="995.45" y="138.05" width="1" height="20.94" fill="#3a8593"/><rect x="994.45" y="151.89" width="3" height="1.61" fill="#2d67b5"/><rect x="998.70" y="149.66" width="1" height="51.02" fill="#d9505f"/><rect x="997.70" y="151.89" width="3" height="38.32" fill="#dc4254"/><rect x="1001.96" y="187.87" width="1" height="25.22" fill="#d9505f"/><rect x="1000.96" y="190.21" width="3" height="17.39" fill="#dc4254"/><rect x="1005.21" y="204.98" width="1" height="38.04" fill="#3a8593"/><rect x="1004.21" y="206.96" width="3" height="1.00" fill="#2d67b5"/><rect x="1008.46" y="204.30" width="1" height="7.71" fill="#d9505f"/><rect x="1007.46" y="206.96" width="3" height="2.58" fill="#dc4254"/><rect x="1011.71" y="204.26" width="1" height="20.92" fill="#d9505f"/><rect x="1010.71" y="209.53" width="3" height="12.88" fill="#dc4254"/><rect x="1014.96" y="220.79" width="1" height="8.07" fill="#d9505f"/><rect x="1013.96" y="222.41" width="3" height="1.93" fill="#dc4254"/><rect x="1018.21" y="194.44" width="1" height="34.36" fill="#3a8593"/><rect x="1017.21" y="199.87" width="3" height="24.47" fill="#2d67b5"/><rect x="1021.46" y="189.86" width="1" height="15.46" fill="#3a8593"/><rect x="1020.46" y="195.36" width="3" height="4.51" fill="#2d67b5"/><rect x="1024.71" y="192.45" width="1" height="33.14" fill="#d9505f"/><rect x="1023.71" y="195.36" width="3" height="23.18" fill="#dc4254"/><rect x="1027.96" y="214.41" width="1" height="17.25" fill="#d9505f"/><rect x="1026.96" y="218.55" width="3" height="10.30" fill="#dc4254"/><rect x="1031.21" y="218.16" width="1" height="15.88" fill="#3a8593"/><rect x="1030.21" y="222.41" width="3" height="6.44" fill="#2d67b5"/><rect x="1034.46" y="219.30" width="1" height="16.44" fill="#d9505f"/><rect x="1033.46" y="222.41" width="3" height="10.30" fill="#dc4254"/><rect x="1037.71" y="227.98" width="1" height="13.37" fill="#d9505f"/><rect x="1036.71" y="232.72" width="3" height="6.44" fill="#dc4254"/><rect x="1040.96" y="228.98" width="1" height="12.11" fill="#3a8593"/><rect x="1039.96" y="234.00" width="3" height="5.15" fill="#2d67b5"/><rect x="1044.21" y="222.19" width="1" height="14.01" fill="#3a8593"/><rect x="1043.21" y="227.56" width="3" height="6.44" fill="#2d67b5"/><rect x="1047.46" y="205.02" width="1" height="24.70" fill="#3a8593"/><rect x="1046.46" y="211.46" width="3" height="16.10" fill="#2d67b5"/><rect x="1050.72" y="201.11" width="1" height="14.12" fill="#3a8593"/><rect x="1049.72" y="203.74" width="3" height="7.73" fill="#2d67b5"/><rect x="1053.97" y="200.43" width="1" height="9.17" fill="#3a8593"/><rect x="1052.97" y="203.09" width="3" height="1.00" fill="#2d67b5"/><rect x="1057.22" y="200.81" width="1" height="3.85" fill="#3a8593"/><rect x="1056.22" y="202.45" width="3" height="1.00" fill="#2d67b5"/><rect x="1060.47" y="168.27" width="1" height="40.62" fill="#3a8593"/><rect x="1059.47" y="177.33" width="3" height="25.12" fill="#2d67b5"/><rect x="1063.72" y="172.09" width="1" height="41.97" fill="#d9505f"/><rect x="1062.72" y="177.33" width="3" height="34.13" fill="#dc4254"/><rect x="1066.97" y="208.56" width="1" height="19.48" fill="#d9505f"/><rect x="1065.97" y="211.46" width="3" height="12.24" fill="#dc4254"/><rect x="1070.22" y="218.33" width="1" height="26.47" fill="#d9505f"/><rect x="1069.22" y="223.70" width="3" height="16.10" fill="#dc4254"/><rect x="1073.47" y="222.68" width="1" height="21.60" fill="#3a8593"/><rect x="1072.47" y="225.63" width="3" height="14.17" fill="#2d67b5"/><rect x="1076.72" y="220.29" width="1" height="10.47" fill="#d9505f"/><rect x="1075.72" y="225.63" width="3" height="1.29" fill="#dc4254"/><rect x="1079.97" y="223.94" width="1" height="7.37" fill="#3a8593"/><rect x="1078.97" y="226.92" width="3" height="1.00" fill="#2d67b5"/><rect x="1083.22" y="222.28" width="1" height="39.19" fill="#d9505f"/><rect x="1082.22" y="226.92" width="3" height="1.00" fill="#dc4254"/><rect x="1086.47" y="209.06" width="1" height="21.74" fill="#3a8593"/><rect x="1085.47" y="214.04" width="3" height="13.01" fill="#2d67b5"/><rect x="1089.72" y="185.10" width="1" height="36.66" fill="#3a8593"/><rect x="1088.72" y="188.28" width="3" height="25.76" fill="#2d67b5"/><rect x="1092.97" y="183.95" width="1" height="11.61" fill="#d9505f"/><rect x="1091.97" y="188.28" width="3" height="3.86" fill="#dc4254"/><rect x="1096.23" y="159.12" width="1" height="41.39" fill="#3a8593"/><rect x="1095.23" y="165.10" width="3" height="27.05" fill="#2d67b5"/><rect x="1099.48" y="160.92" width="1" height="9.43" fill="#3a8593"/><rect x="1098.48" y="163.16" width="3" height="1.93" fill="#2d67b5"/><rect x="1102.73" y="156.62" width="1" height="30.10" fill="#d9505f"/><rect x="1101.73" y="163.16" width="3" height="20.61" fill="#dc4254"/><rect x="1105.98" y="131.23" width="1" height="64.02" fill="#3a8593"/><rect x="1104.98" y="168.86" width="3" height="14.80" fill="#2d67b5"/><polyline points="-8.51,557.46 -5.26,555.81 -2.01,553.69 1.24,551.61 4.49,549.58 7.74,547.74 10.99,545.86 14.24,544.14 17.49,542.37 20.74,540.77 23.99,539.37 27.25,538.17 30.50,536.80 33.75,535.45 37.00,533.45 40.25,530.88 43.50,527.04 46.75,523.68 50.00,520.14 53.25,516.84 56.50,513.39 59.75,508.78 63.00,505.48 66.25,501.73 69.50,497.92 72.75,493.91 76.01,490.00 79.26,486.13 82.51,481.62 85.76,477.47 89.01,473.04 92.26,469.23 95.51,466.06 98.76,464.06 102.01,461.35 105.26,458.95 108.51,458.09 111.76,455.74 115.01,454.09 118.26,452.93 121.52,451.77 124.77,449.85 128.02,447.32 131.27,444.89 134.52,442.68 137.77,440.23 141.02,438.08 144.27,436.09 147.52,433.74 150.77,431.89 154.02,431.18 157.27,430.39 160.52,428.98 163.77,427.80 167.03,426.39 170.28,424.90 173.53,422.92 176.78,421.65 180.03,420.05 183.28,418.66 186.53,418.06 189.78,418.30 193.03,418.07 196.28,418.42 199.53,418.67 202.78,419.53 206.03,419.81 209.28,420.00 212.53,419.90 215.79,419.81 219.04,419.24 222.29,418.79 225.54,418.90 228.79,418.94 232.04,419.17 235.29,419.48 238.54,419.86 241.79,420.05 245.04,421.04 248.29,422.57 251.54,423.83 254.79,424.09 258.04,424.09 261.30,424.06 264.55,424.26 267.80,424.65 271.05,425.31 274.30,425.46 277.55,426.18 280.80,426.88 284.05,427.37 287.30,427.49 290.55,427.93 293.80,427.17 297.05,426.72 300.30,425.83 303.55,425.00 306.81,424.35 310.06,422.45 313.31,420.94 316.56,419.72 319.81,418.88 323.06,417.92 326.31,416.79 329.56,415.89 332.81,414.81 336.06,414.06 339.31,413.52 342.56,412.79 345.81,412.32 349.06,411.82 352.32,411.31 355.57,410.57 358.82,409.40 362.07,408.16 365.32,407.04 368.57,406.34 371.82,405.66 375.07,404.94 378.32,404.28 381.57,404.19 384.82,403.88 388.07,403.96 391.32,404.22 394.57,404.41 397.82,404.47 401.08,404.58 404.33,405.04 407.58,405.53 410.83,406.02 414.08,406.68 417.33,407.28 420.58,408.11 423.83,409.64 427.08,410.74 430.33,412.01 433.58,413.06 436.83,414.40 440.08,415.54 443.33,416.17 446.59,416.75 449.84,417.52 453.09,418.71 456.34,420.66 459.59,422.63 462.84,424.12 466.09,426.16 469.34,427.90 472.59,429.23 475.84,430.59 479.09,431.97 482.34,433.18 485.59,434.00 488.84,434.39 492.10,433.73 495.35,433.05 498.60,432.64 501.85,432.30 505.10,431.27 508.35,430.17 511.60,428.85 514.85,427.72 518.10,427.07 521.35,426.57 524.60,425.99 527.85,424.87 531.10,423.83 534.35,422.72 537.61,422.04 540.86,421.54 544.11,421.46 547.36,421.18 550.61,421.89 553.86,422.78 557.11,424.29 560.36,426.78 563.61,428.67 566.86,430.71 570.11,431.00 573.36,431.51 576.61,431.97 579.86,432.97 583.11,433.75 586.37,434.20 589.62,435.12 592.87,436.30 596.12,437.08 599.37,437.67 602.62,438.53 605.87,439.07 609.12,439.71 612.37,439.78 615.62,440.04 618.87,439.36 622.12,438.68 625.37,438.03 628.62,437.76 631.88,438.33 635.13,439.00 638.38,439.55 641.63,440.15 644.88,440.78 648.13,441.79 651.38,442.30 654.63,443.20 657.88,443.94 661.13,445.10 664.38,446.80 667.63,448.38 670.88,449.72 674.13,450.45 677.39,451.01 680.64,451.61 683.89,451.99 687.14,451.75 690.39,451.65 693.64,451.75 696.89,452.10 700.14,451.91 703.39,451.37 706.64,450.55 709.89,449.68 713.14,448.80 716.39,447.90 719.64,447.12 722.89,446.11 726.15,445.44 729.40,444.27 732.65,443.00 735.90,441.75 739.15,440.62 742.40,440.12 745.65,440.27 748.90,440.47 752.15,440.63 755.40,440.43 758.65,440.24 761.90,439.88 765.15,439.69 768.40,439.52 771.66,439.75 774.91,440.04 778.16,439.76 781.41,439.32 784.66,438.97 787.91,437.85 791.16,436.53 794.41,435.10 797.66,433.78 800.91,432.26 804.16,430.80 807.41,429.24 810.66,428.15 813.91,427.11 817.17,426.28 820.42,425.10 823.67,424.38 826.92,423.58 830.17,422.58 833.42,421.12 836.67,419.01 839.92,417.09 843.17,415.77 846.42,414.67 849.67,413.67 852.92,412.87 856.17,412.32 859.42,411.39 862.68,408.93 865.93,406.49 869.18,403.99 872.43,401.54 875.68,398.25 878.93,393.00 882.18,388.15 885.43,382.84 888.68,378.54 891.93,373.46 895.18,368.70 898.43,364.32 901.68,359.94 904.93,355.28 908.18,350.30 911.44,344.48 914.69,338.73 917.94,333.51 921.19,328.45 924.44,324.85 927.69,321.66 930.94,317.59 934.19,313.76 937.44,309.60 940.69,305.87 943.94,302.10 947.19,298.82 950.44,295.62 953.69,291.84 956.95,288.66 960.20,284.90 963.45,281.27 966.70,277.44 969.95,274.73 973.20,272.30 976.45,268.83 979.70,265.79 982.95,262.53 986.20,259.39 989.45,255.64 992.70,251.64 995.95,247.72 999.20,245.47 1002.46,243.98 1005.71,242.53 1008.96,241.24 1012.21,240.50 1015.46,239.87 1018.71,238.30 1021.96,236.61 1025.21,235.90 1028.46,235.63 1031.71,235.11 1034.96,235.02 1038.21,235.18 1041.46,235.13 1044.71,234.84 1047.96,233.92 1051.22,232.74 1054.47,231.57 1057.72,230.43 1060.97,228.35 1064.22,227.69 1067.47,227.53 1070.72,228.01 1073.97,227.92 1077.22,227.88 1080.47,227.84 1083.72,227.81 1086.97,227.27 1090.22,225.74 1093.47,224.42 1096.73,222.10 1099.98,219.79 1103.23,218.37 1106.48,216.43" fill="none" stroke="#4f5cc0" stroke-width="0.9"/><line x1="4" y1="169.5" x2="1282" y2="169.5" stroke="#a9b3c8" stroke-width="1" stroke-dasharray="1,1"/><line x1="768" y1="456.3" x2="1281" y2="149" stroke="#3a9270" stroke-width="0.9"/><line x1="950" y1="132.8" x2="1283" y2="132.8" stroke="#e5475a" stroke-width="1.8"/><line x1="980" y1="262.5" x2="1283" y2="262.5" stroke="#d9566a" stroke-width="1"/><text x="1179.5" y="110.50" fill="#e2727a" text-anchor="middle" font-size="10.1" xml:space="preserve">+2/8 Extreme Overshoot --  112500</text><text x="1179.5" y="150.75" fill="#e2727a" text-anchor="middle" font-size="10.1" xml:space="preserve">+1/8 Overshoot --  106250</text><text x="1179.5" y="191.00" fill="#3fb8d8" text-anchor="middle" font-size="10.1" xml:space="preserve">8/8 Ultimate resistance --  100000</text><text x="1179.5" y="231.25" fill="#f0a340" text-anchor="middle" font-size="10.1" xml:space="preserve">7/8 Weak, Stop &amp; Reverse --  93750</text><text x="1179.5" y="271.50" fill="#c86ee6" text-anchor="middle" font-size="10.1" xml:space="preserve">6/8 Strong pivot reverse --  87500</text><text x="1179.5" y="311.75" fill="#5eae62" text-anchor="middle" font-size="10.1" xml:space="preserve">5/8 Top of trading range --  81250</text><text x="1179.5" y="352.00" fill="#3fb8d8" text-anchor="middle" font-size="10.1" xml:space="preserve">4/8 Major S/R pivot point --  75000</text><text x="1179.5" y="392.25" fill="#5eae62" text-anchor="middle" font-size="10.1" xml:space="preserve">3/8 Bottom of trading range --  68750</text><text x="1179.5" y="432.50" fill="#c86ee6" text-anchor="middle" font-size="10.1" xml:space="preserve">2/8 Strong, Pivot, reverse --  62500</text><text x="1179.5" y="472.75" fill="#f0a340" text-anchor="middle" font-size="10.1" xml:space="preserve">1/8 Weak, Stop &amp; Reverse --  56250</text><text x="1179.5" y="513.00" fill="#3fb8d8" text-anchor="middle" font-size="10.1" xml:space="preserve">0/8 Ultimate Support--  50000</text><text x="1179.5" y="553.25" fill="#5eae62" text-anchor="middle" font-size="10.1" xml:space="preserve">-1/8 Oversold--  43750</text><text x="1179.5" y="593.50" fill="#5eae62" text-anchor="middle" font-size="10.1" xml:space="preserve">-2/8 Extreme Oversold--  37500</text>
</g>
<g font-size="13" fill="#22252e" letter-spacing="0.2"><text x="1290.6" y="34.60">125,000.00</text><text x="1290.6" y="66.80">120,000.00</text><text x="1290.6" y="99.00">115,000.00</text><text x="1290.6" y="131.20">110,000.00</text><text x="1290.6" y="163.40">105,000.00</text><text x="1290.6" y="195.60">100,000.00</text><text x="1290.6" y="227.80">95,000.00</text><text x="1290.6" y="260.00">90,000.00</text><text x="1290.6" y="292.20">85,000.00</text><text x="1290.6" y="324.40">80,000.00</text><text x="1290.6" y="356.60">75,000.00</text><text x="1290.6" y="388.80">70,000.00</text><text x="1290.6" y="421.00">65,000.00</text><text x="1290.6" y="453.20">60,000.00</text><text x="1290.6" y="485.40">55,000.00</text><text x="1290.6" y="517.60">50,000.00</text><text x="1290.6" y="549.80">45,000.00</text><text x="1290.6" y="582.00">40,000.00</text><text x="1290.6" y="614.20">35,000.00</text><text x="1290.6" y="646.40">30,000.00</text><text x="1290.6" y="678.60">25,000.00</text></g>
<rect x="1283.2" y="124.2" width="78.8" height="17.5" fill="#ee3145"/>
<text x="1290.6" y="136.4" fill="#fff" font-size="13" letter-spacing="0.2">109,217.81</text>
<rect x="1283.2" y="254" width="71.8" height="17.5" fill="#ee3145"/>
<text x="1290.6" y="266.2" fill="#fff" font-size="13" letter-spacing="0.2">89,135.57</text>
<g transform="translate(13.3,665.4) scale(0.64)" fill="#131722"><path d="M14 22H7V11H0V4h14v18zM28 22h-8l7.5-18h8L28 22z"/><circle cx="20" cy="8" r="4"/></g>
<g transform="translate(1324.3,704.7)" fill="none" stroke="#2e3139" stroke-width="1.1"><path d="M-5,0 L-2.6,-4.3 L2.6,-4.3 L5,0 L2.6,4.3 L-2.6,4.3 Z"/><circle r="1.7" stroke-width="1.2"/></g>
<circle cx="248.6" cy="14.6" r="6" fill="#d6f2ee"/><circle cx="248.6" cy="14.6" r="3" fill="#089981"/>
<circle cx="18.2" cy="15.2" r="6.9" fill="#f39528"/>
<text x="18.2" y="18.3" font-size="8.5" fill="#fff3e0" text-anchor="middle" transform="rotate(12 18.2 15.2)">&#x20BF;</text>
</svg>
<div class="frame-top"></div><div class="frame-left"></div><div class="frame-right"></div><div class="frame-bottom"></div>
<div class="legend" style="left:28px;top:8.5px;font-size:12.1px;">Bitcoin / U.S. Dollar · 1D · COINBASE</div>
<div class="lg" style="left:268px;">O</div><div class="lg v" style="left:277px;">101,217.78</div>
<div class="lg" style="left:337px;">H</div><div class="lg v" style="left:346px;">109,358.01</div>
<div class="lg" style="left:405px;">L</div><div class="lg v" style="left:411px;">99,416.27</div>
<div class="lg" style="left:466px;">C</div><div class="lg v" style="left:474px;">103,515.60</div>
<div class="lg" style="left:534px;">Vol</div><div class="lg v" style="left:550px;">29.45K</div>
<div class="lg2" style="left:11px;top:28.5px;font-size:10.4px">EMA</div><div class="lg2 g" style="left:35px;top:28px;">50 close</div><div class="lg2" style="left:81px;top:28px;color:#4470e6">96,141.70</div>
<div class="lg2" style="left:11px;top:47px;font-size:10.5px">Murrey Math Lines</div><div class="lg2 g" style="left:100px;top:47px;">64 1.5 none</div>
<div class="btn"></div><svg style="position:absolute;left:0;top:0" width="40" height="90"><path d="M19.5,72.3 L22.4,69.4 L25.3,72.3" fill="none" stroke="#1d2029" stroke-width="1.2"/></svg>
<div style="position:absolute;left:1286px;top:24px;width:76px;height:4.5px;background:#fff;"></div><div class="usd"><span style="position:absolute;left:2px;top:2.2px;">USD</span><svg style="position:absolute;left:66.5px;top:6.5px" width="8" height="6"><path d="M1,1 L3.2,3.2 L5.4,1" fill="none" stroke="#3b3e48" stroke-width="1.3"/></svg></div>
<div class="taxis" style="left:50px">Mar</div>
<div class="taxis" style="left:150px">Apr</div>
<div class="taxis" style="left:247.5px">May</div>
<div class="taxis" style="left:348.5px">Jun</div>
<div class="taxis" style="left:446.5px">Jul</div>
<div class="taxis" style="left:547px">Aug</div>
<div class="taxis" style="left:647.5px">Sep</div>
<div class="taxis" style="left:745.5px">Oct</div>
<div class="taxis" style="left:846px">Nov</div>
<div class="taxis" style="left:943.5px">Dec</div>
<div class="taxis" style="left:1044.8px;font-weight:bold;font-size:13px;letter-spacing:0.5px;top:697.3px">2025</div>
<div class="taxis" style="left:1145.5px">Feb</div>
<div class="taxis" style="left:1236.5px">Mar</div>
</body></html>
